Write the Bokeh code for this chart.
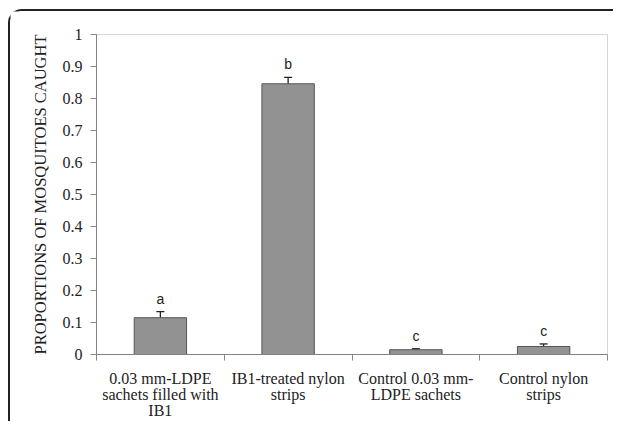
import math
from bokeh.plotting import figure
from bokeh.models import (Range1d, FixedTicker, ColumnDataSource, Whisker, TeeHead,
                          LinearAxis, BoxAnnotation, CustomJSTickFormatter)
from bokeh.core.properties import value
from bokeh.embed import file_html
from bokeh.resources import INLINE

categories = ["0.03 mm-LDPE\nsachets filled with\nIB1",
              "IB1-treated nylon\nstrips",
              "Control 0.03 mm-\nLDPE sachets",
              "Control nylon\nstrips"]
proportions = [0.115, 0.846, 0.015, 0.025]
errors = [0.019, 0.020, 0.003, 0.008]
letters = ["a", "b", "c", "c"]
y_ticks = [0, 0.1, 0.2, 0.3, 0.4, 0.5, 0.6, 0.7, 0.8, 0.9, 1.0]
y_tick_labels = ["0", "0.1", "0.2", "0.3", "0.4", "0.5", "0.6", "0.7", "0.8", "0.9", "1"]
y_title = "PROPORTIONS OF MOSQUITOES CAUGHT"

SERIF = "Liberation Serif"
N = len(categories)

# canvas geometry (pixels): plot area 511 x 320, offset 86 px left / 23 px top inside canvas
W, H = 605, 412
PX_X = 511 / N
PX_Y = 320.0
left_px, top_px = 86, 23
x_range = Range1d(-left_px / PX_X, N + (W - left_px - 511) / PX_X)
y_range = Range1d(-(H - top_px - 320) / PX_Y, 1 + top_px / PX_Y)

xs = [i + 0.5 for i in range(N)]
src = ColumnDataSource(dict(
    x=xs, top=proportions,
    upper=[v + e for v, e in zip(proportions, errors)],
    lower=[v - e for v, e in zip(proportions, errors)],
    letter=letters,
))

p = figure(width=W, height=H, x_range=x_range, y_range=y_range,
           output_backend="svg", toolbar_location=None,
           x_axis_location=None, y_axis_location=None,
           min_border_left=0, min_border_right=0, min_border_top=0, min_border_bottom=0)
p.styles = {"border-left": "2px solid #222", "border-top": "2px solid #222",
            "border-top-left-radius": "14px", "margin-left": "8px", "margin-top": "9px"}
p.xgrid.visible = False
p.ygrid.visible = False
p.outline_line_color = None

# plot-area box
p.add_layout(BoxAnnotation(left=0, right=N, bottom=0, top=1, fill_alpha=0,
                           line_color="#777", line_width=1))

p.vbar(x="x", top="top", width=0.41, source=src, fill_color="#929292", line_color="#555555", line_width=1)
p.add_layout(Whisker(base="x", upper="upper", lower="lower", source=src, line_color="#222", line_width=1.3,
                     upper_head=TeeHead(size=8, line_color="#222", line_width=1.3),
                     lower_head=TeeHead(size=8, line_color="#222", line_width=1.3)))
p.text(x="x", y="upper", text="letter", source=src, text_align="center", text_baseline="bottom",
       y_offset=-5, text_font=value("Liberation Sans"), text_font_size="14px", text_color="#222")

blank = CustomJSTickFormatter(code="return ''")

# x axis at y = 0, ticks at category boundaries
xa = LinearAxis(fixed_location=0, bounds=(0, N), ticker=FixedTicker(ticks=list(range(N + 1))),
                formatter=blank, axis_line_color="#888", major_tick_line_color="#888",
                major_tick_out=6, major_tick_in=0, minor_tick_line_color=None)
p.add_layout(xa, "below")

# y axis at x = 0
ya = LinearAxis(fixed_location=0, bounds=(0, 1), ticker=FixedTicker(ticks=y_ticks),
                formatter=blank, axis_line_color="#888", major_tick_line_color="#888",
                major_tick_out=6, major_tick_in=0, minor_tick_line_color=None)
p.add_layout(ya, "left")

# tick labels
p.text(x=[0] * len(y_ticks), y=y_ticks, text=y_tick_labels, x_offset=-14,
       text_align="right", text_baseline="middle", text_font=value(SERIF),
       text_font_size="16px", text_color="#222")
p.text(x=xs, y=[0] * N, text=categories, y_offset=15,
       text_align="center", text_baseline="top", text_font=value(SERIF),
       text_font_size="16px", text_color="#222", text_line_height=0.97)

# axis title
p.text(x=[0], y=[0.5], text=[y_title], x_offset=-56, angle=math.pi / 2,
       text_align="center", text_baseline="middle", text_font=value(SERIF),
       text_font_size="16.5px", text_color="#222")

open("out.html", "w").write(file_html(p, INLINE))
